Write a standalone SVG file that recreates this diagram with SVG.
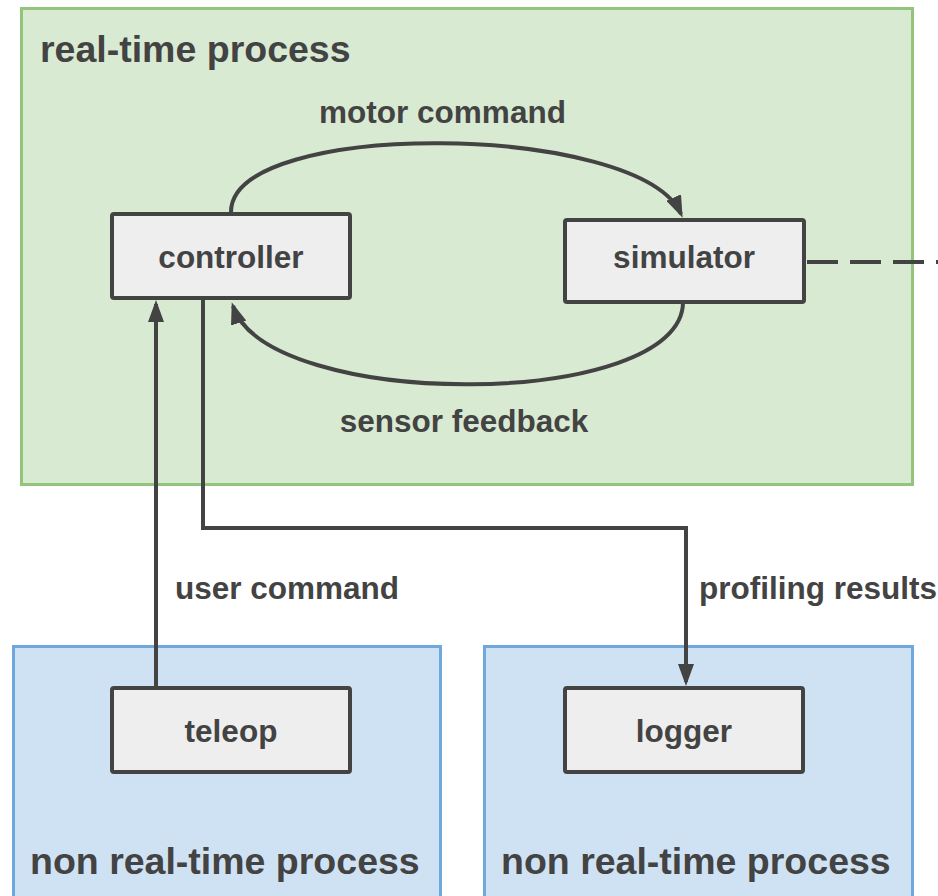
<svg xmlns="http://www.w3.org/2000/svg" width="938" height="896" viewBox="0 0 938 896">
  <style>
    text { font-family: "Liberation Sans", Arial, sans-serif; font-weight: bold; fill: #434343; }
    .title { font-size: 37.5px; }
    .label { font-size: 31.5px; }
    .node rect { fill: #eeeeee; stroke: #434343; stroke-width: 4; }
    .node text { text-anchor: middle; }
    .rt { fill: #d9ead3; stroke: #93c47d; stroke-width: 3; }
    .nrt { fill: #cfe2f3; stroke: #6fa8dc; stroke-width: 3; }
    .edge { fill: none; stroke: #434343; stroke-width: 4; }
    .arrow { marker-end: url(#head); }
  </style>
  <defs>
    <marker id="head" markerUnits="userSpaceOnUse" markerWidth="22" markerHeight="16" refX="18" refY="8" orient="auto">
      <path d="M0,0 L22,8 L0,16 z" fill="#434343"/>
    </marker>
  </defs>

  <!-- process containers -->
  <g id="realtime-process">
    <rect class="rt" x="21.5" y="8.5" width="891" height="476"/>
    <text class="title" x="40" y="62">real-time process</text>
  </g>
  <g id="nonrealtime-process-left">
    <rect class="nrt" x="13.5" y="646.5" width="427" height="260"/>
    <text class="title" x="30" y="874">non real-time process</text>
  </g>
  <g id="nonrealtime-process-right">
    <rect class="nrt" x="484.5" y="646.5" width="428" height="260"/>
    <text class="title" x="501" y="874">non real-time process</text>
  </g>

  <!-- connectors -->
  <g id="connectors">
    <path class="edge arrow" d="M231,212 C231,118 640,122 681,214"/>
    <path class="edge arrow" d="M683,302 C683,410 268,412 233,306"/>
    <path class="edge arrow" d="M156,686 L156,304"/>
    <path class="edge arrow" d="M203,300 L203,528 L686,528 L686,682"/>
    <path class="edge" d="M805,262 L938,262" stroke-dasharray="31 12" stroke-dashoffset="-2"/>
    <text class="label" x="442.5" y="123" text-anchor="middle">motor command</text>
    <text class="label" x="464" y="432" text-anchor="middle">sensor feedback</text>
    <text class="label" x="175" y="599">user command</text>
    <text class="label" x="699" y="599">profiling results</text>
  </g>

  <!-- nodes -->
  <g id="controller" class="node">
    <rect x="112" y="214" width="238" height="84" rx="2"/>
    <text class="label" x="231" y="268">controller</text>
  </g>
  <g id="simulator" class="node">
    <rect x="565" y="220" width="239" height="82" rx="2"/>
    <text class="label" x="684" y="268">simulator</text>
  </g>
  <g id="teleop" class="node">
    <rect x="112" y="688" width="238" height="84" rx="2"/>
    <text class="label" x="231" y="742">teleop</text>
  </g>
  <g id="logger" class="node">
    <rect x="565" y="688" width="238" height="84" rx="2"/>
    <text class="label" x="684" y="742">logger</text>
  </g>
</svg>
